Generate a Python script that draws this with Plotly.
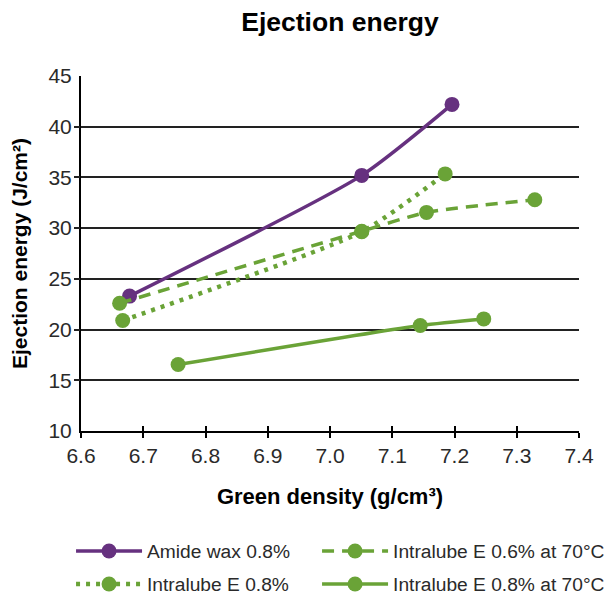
import plotly.graph_objects as go

# Data
amide_x = [6.678, 7.051, 7.196]
amide_y = [23.3, 35.2, 42.2]

ie06_70_x = [6.662, 7.051, 7.155, 7.329]
ie06_70_y = [22.6, 29.7, 31.55, 32.8]

ie08_x = [6.667, 7.051, 7.185]
ie08_y = [20.9, 29.65, 35.35]

ie08_70_x = [6.756, 7.145, 7.247]
ie08_70_y = [16.55, 20.4, 21.05]

x_ticks = [6.6, 6.7, 6.8, 6.9, 7.0, 7.1, 7.2, 7.3, 7.4]
x_tick_text = ["6.6", "6.7", "6.8", "6.9", "7.0", "7.1", "7.2", "7.3", "7.4"]
y_ticks = [10, 15, 20, 25, 30, 35, 40, 45]
grid_vals = [15, 20, 25, 30, 35, 40]

PURPLE = "#66317f"
GREEN = "#6aa337"
FONT = "Liberation Sans"
TEXT = "#2a2a2a"

fig = go.Figure()

def add(x, y, name, color, dash, legend, width=3.5):
    fig.add_trace(go.Scatter(
        x=x, y=y, name=name, mode="lines+markers", legend=legend,
        line=dict(color=color, width=width, dash=dash, shape="spline", smoothing=0.6),
        marker=dict(color=color, size=15),
    ))

add(amide_x, amide_y, "Amide wax 0.8%", PURPLE, "solid", "legend")
add(ie06_70_x, ie06_70_y, "Intralube E 0.6% at 70°C", GREEN, "12px,8px", "legend2")
add(ie08_x, ie08_y, "Intralube E 0.8%", GREEN, "4px,6px", "legend3", width=4.5)
add(ie08_70_x, ie08_70_y, "Intralube E 0.8% at 70°C", GREEN, "solid", "legend4")

leg_common = dict(orientation="h", xanchor="left", yanchor="middle",
                  font=dict(size=19.2, color=TEXT), itemwidth=66,
                  bgcolor="rgba(0,0,0,0)")

fig.update_layout(
    width=604, height=588,
    margin=dict(l=73, r=33, t=68, b=165, autoexpand=False),
    paper_bgcolor="white", plot_bgcolor="white",
    font=dict(family=FONT, size=19, color=TEXT),
    title=dict(text="<b>Ejection energy</b>", xref="paper", x=0.52, xanchor="center",
               y=0.976, yanchor="middle", font=dict(size=26.5, color="black")),
    xaxis=dict(range=[6.6, 7.4], tickvals=x_ticks, ticktext=x_tick_text,
               showline=True, linecolor="black", linewidth=2,
               ticks="outside", ticklen=5, tickwidth=2, tickcolor="black",
               showgrid=False, zeroline=False, tickfont=dict(size=21),
               ticklabelstandoff=0,
               title=dict(text="<b>Green density (g/cm³)</b>", font=dict(size=22, color="black"), standoff=22)),
    xaxis2=dict(range=[6.6, 7.4], tickvals=x_ticks, overlaying="x", anchor="y",
                side="bottom", ticks="inside", ticklen=5, tickwidth=2, tickcolor="black",
                showticklabels=False, showgrid=False, zeroline=False, showline=False),
    yaxis=dict(range=[10, 45], tickvals=y_ticks,
               showline=True, linecolor="black", linewidth=2,
               ticks="", showgrid=False, zeroline=False, ticklabelstandoff=3,
               tickfont=dict(size=21),
               title=dict(text="<b>Ejection energy (J/cm²)</b>", font=dict(size=21, color="black"), standoff=17)),
    yaxis2=dict(range=[10, 45], tickvals=grid_vals, overlaying="y", anchor="x",
                side="left", ticks="outside", ticklen=6, tickwidth=1.5, tickcolor="#222222",
                showticklabels=False, showgrid=True, gridcolor="#222222", gridwidth=1.5,
                zeroline=False, showline=False),
    legend=dict(x=-0.020, y=-0.338, **leg_common),
    legend2=dict(x=0.474, y=-0.338, **leg_common),
    legend3=dict(x=-0.020, y=-0.431, **leg_common),
    legend4=dict(x=0.474, y=-0.431, **leg_common),
    showlegend=True,
)

# invisible trace to activate overlay axes
fig.add_trace(go.Scatter(x=[6.6], y=[10], xaxis="x2", yaxis="y2", showlegend=False,
                         mode="markers", marker=dict(opacity=0), hoverinfo="skip"))

fig.write_html("out.html")
